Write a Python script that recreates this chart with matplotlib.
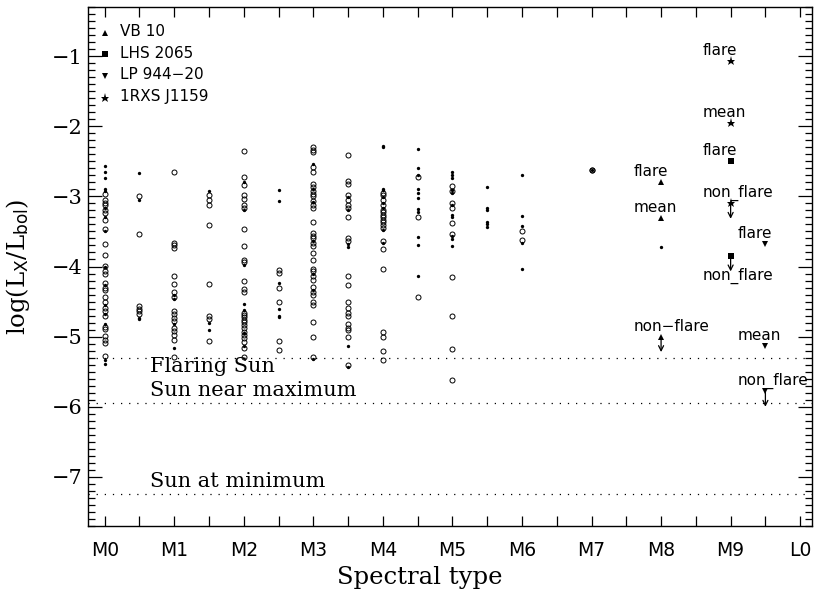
import matplotlib.pyplot as plt
import numpy as np

plt.rcParams['mathtext.fontset'] = 'dejavuserif'
plt.rcParams['font.family'] = ['DejaVu Sans']

# log(Lx/Lbol) per spectral subtype (0 = M0, 0.5 = M0.5, ..., 10 = L0)
filled_lx = {
    0.0: [-2.56, -2.65, -2.74, -2.89, -2.93, -3.16, -3.29, -3.50, -4.01, -4.27,
          -4.55, -4.68, -4.82, -5.33, -5.39],
    0.5: [-2.66, -3.05, -4.73, -4.75],
    1.0: [-4.40, -4.47, -4.82, -5.16],
    1.5: [-2.93, -4.80, -4.91],
    2.0: [-2.80, -3.19, -3.98, -4.54, -4.62, -4.95, -5.13],
    2.5: [-2.91, -3.07, -4.24, -4.61, -4.70, -4.72],
    3.0: [-2.54, -2.90, -3.08, -3.63, -4.11, -4.33, -5.32],
    3.5: [-3.01, -3.19, -3.68, -3.72, -5.13, -5.44],
    4.0: [-2.28, -2.30, -2.89, -2.91, -3.01, -3.09, -3.16, -3.48, -3.67],
    4.5: [-2.33, -2.60, -2.69, -2.90, -2.95, -3.03, -3.18, -3.22, -3.58, -3.70, -4.13],
    5.0: [-2.65, -2.69, -2.74, -2.91, -2.95, -3.12, -3.27, -3.30, -3.56, -3.61, -3.71],
    5.5: [-2.86, -3.17, -3.20, -3.36, -3.40, -3.43],
    6.0: [-2.69, -3.28, -3.42, -3.66, -4.04],
    7.0: [-2.62],
    8.0: [-3.72],
}
open_lx = {
    0.0: [-2.97, -3.05, -3.09, -3.12, -3.19, -3.24, -3.34, -3.46, -3.68, -3.83,
          -3.99, -4.07, -4.11, -4.24, -4.31, -4.34, -4.43, -4.51, -4.59, -4.64,
          -4.71, -4.86, -4.89, -4.99, -5.05, -5.09, -5.28],
    0.5: [-2.99, -3.53, -4.56, -4.60, -4.64, -4.68],
    1.0: [-2.65, -3.66, -3.69, -3.73, -4.14, -4.25, -4.37, -4.43, -4.63, -4.68,
          -4.73, -4.78, -4.87, -4.92, -4.97, -5.05, -5.29],
    1.5: [-2.98, -3.05, -3.12, -3.41, -4.25, -4.70, -4.75, -5.06],
    2.0: [-2.36, -2.72, -2.84, -2.98, -3.04, -3.12, -3.16, -3.46, -3.71, -3.91,
          -3.94, -4.20, -4.32, -4.36, -4.66, -4.69, -4.72, -4.76, -4.79, -4.83,
          -4.88, -4.93, -4.97, -5.02, -5.07, -5.16, -5.29],
    2.5: [-4.05, -4.09, -4.30, -4.51, -5.06, -5.19],
    3.0: [-2.30, -2.34, -2.37, -2.58, -2.65, -2.83, -2.86, -2.93, -2.97, -3.00,
          -3.07, -3.12, -3.16, -3.36, -3.52, -3.56, -3.60, -3.67, -3.71, -3.81,
          -3.91, -4.03, -4.07, -4.14, -4.19, -4.29, -4.37, -4.41, -4.50, -4.55,
          -4.79, -5.01, -5.29],
    3.5: [-2.41, -2.78, -2.82, -2.98, -3.05, -3.12, -3.16, -3.29, -3.60, -3.63,
          -4.13, -4.26, -4.51, -4.59, -4.67, -4.70, -4.82, -4.87, -4.90, -5.01, -5.40],
    4.0: [-2.95, -2.98, -3.05, -3.12, -3.19, -3.23, -3.26, -3.30, -3.34, -3.37,
          -3.41, -3.45, -3.63, -3.75, -4.03, -4.93, -5.00, -5.21, -5.34],
    4.5: [-2.73, -3.30, -4.44],
    5.0: [-2.85, -2.93, -3.09, -3.16, -3.38, -3.53, -4.15, -4.71, -5.17, -5.62],
    6.0: [-3.49, -3.62],
    7.0: [-2.62, -2.63],
}

# the four late-type objects: (name, marker, spectral type, values, labels, upper limit?)
vb10_lx = [-2.80, -3.31, -5.00]
lhs2065_lx = [-2.49, -3.85]
lp944_lx = [-3.68, -5.14, -5.78]
rxs1159_lx = [-1.07, -1.96, -3.10]
objects = [
    ('VB 10', '^', 8.0, vb10_lx, ['flare', 'mean', 'non\u2212flare'], [False, False, True]),
    ('LHS 2065', 's', 9.0, lhs2065_lx, ['flare', 'non_flare'], [False, True]),
    ('LP 944\u221220', 'v', 9.5, lp944_lx, ['flare', 'mean', 'non_flare'], [False, False, True]),
    ('1RXS J1159', '*', 9.0, rxs1159_lx, ['flare', 'mean', 'non_flare'], [False, False, True]),
]

sun_levels = [-5.3, -5.95, -7.25]
sun_labels = ['Flaring Sun', 'Sun near maximum', 'Sun at minimum']

xtick_labels = ['M0', 'M1', 'M2', 'M3', 'M4', 'M5', 'M6', 'M7', 'M8', 'M9', 'L0']

fig = plt.figure(figsize=(8.14, 5.95), dpi=100)
ax = fig.add_axes([88/814, 69/595, 724/814, 519/595])

for sp, vals in filled_lx.items():
    ax.plot(np.full(len(vals), sp), vals, 'o', ms=2.4, color='k', mew=0)
for sp, vals in open_lx.items():
    ax.plot(np.full(len(vals), sp), vals, 'o', ms=3.6, mfc='none', mec='k', mew=0.7)

msize = {'^': 4.5, 's': 4.5, 'v': 4.5, '*': 6.5}
for name, mk, sp, vals, labs, lims in objects:
    for v, lab, lim in zip(vals, labs, lims):
        ax.plot(sp, v, mk, ms=msize[mk], color='k', mew=0)
        if lim:
            ax.annotate('', xy=(sp, v - 0.22), xytext=(sp, v),
                        arrowprops=dict(arrowstyle='->', lw=0.9, color='k',
                                        shrinkA=0, shrinkB=0, mutation_scale=9))
        # LHS 2065 non-flare label sits under its arrow
        dy = -0.28 if (name == 'LHS 2065' and lim) else 0.15
        ax.text(sp - 0.4, v + dy, lab, ha='left', va='center', fontsize=11)

# legend drawn by hand in the upper left corner
for i, (name, mk, sp, vals, labs, lims) in enumerate(objects):
    yy = 0.950 - i * 0.0415
    ax.plot(0.0235, yy, mk, ms=msize[mk], color='k', mew=0, transform=ax.transAxes)
    ax.text(0.044, yy - 0.006, name, fontsize=11, ha='left', va='baseline',
            transform=ax.transAxes)

for lev, lab in zip(sun_levels, sun_labels):
    ax.axhline(lev, color='k', lw=0.9, ls=(0, (1, 5.5)))
    dy = -0.21 if lab == 'Flaring Sun' else 0.1
    ax.text(0.65, lev + dy, lab, family='DejaVu Serif', fontsize=15,
            ha='left', va='baseline')

ax.set_xlim(-0.24, 10.17)
ax.set_ylim(-7.7, -0.3)
ax.set_xticks(np.arange(0, 11))
ax.set_xticks(np.arange(0.5, 10, 1), minor=True)
ax.set_xticklabels(xtick_labels, fontsize=13.5)
ax.set_yticks(np.arange(-7, 0))
ax.set_yticks(np.arange(-7.7, -0.25, 0.1), minor=True)
ax.set_yticklabels(['\u2212%d' % (-t) for t in range(-7, 0)],
                   family='DejaVu Serif', fontsize=15)
ax.tick_params(which='both', direction='in', top=True, right=True, width=0.9)
ax.tick_params(axis='x', which='both', length=7, pad=11)
ax.tick_params(axis='y', which='major', length=10, pad=4)
ax.tick_params(axis='y', which='minor', length=5)
for s in ax.spines.values():
    s.set_linewidth(1.0)

ax.set_xlabel('Spectral type', family='DejaVu Serif', fontsize=17.5)
ax.xaxis.set_label_coords(0.4586, -0.078)
ax.set_ylabel(r'$\mathrm{log(L}_{\mathsf{X}}\mathrm{/L}_{\mathsf{bol}}\mathrm{)}$', fontsize=17.5)
ax.yaxis.set_label_coords(-0.077, 0.5)

fig.savefig('out.png', dpi=100)
